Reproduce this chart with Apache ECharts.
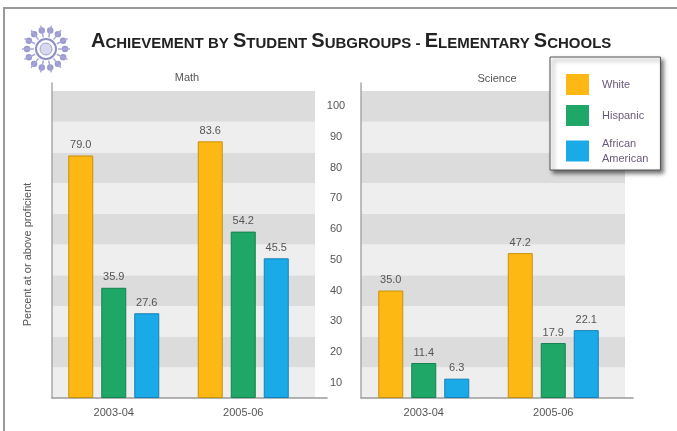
<!DOCTYPE html>
<html>
<head>
<meta charset="utf-8">
<script src="https://cdn.jsdelivr.net/npm/echarts@6/dist/echarts.min.js"></script>
<style>
  html, body { margin: 0; padding: 0; background: #ffffff; }
  #chart { width: 677px; height: 431px; }
</style>
</head>
<body>
<div id="chart"></div>
<script>
// ---- Data ----
const categories = ['2003-04', '2005-06'];
const seriesNames = ['White', 'Hispanic', 'African American'];
const mathWhite = [79.0, 83.6];
const mathHispanic = [35.9, 54.2];
const mathAfricanAmerican = [27.6, 45.5];
const scienceWhite = [35.0, 47.2];
const scienceHispanic = [11.4, 17.9];
const scienceAfricanAmerican = [6.3, 22.1];
const bandLabels = ['10', '20', '30', '40', '50', '60', '70', '80', '90', '100'];
const panelTitles = ['Math', 'Science'];

// ---- Styles ----
const colors = ['#FDB813', '#1FA767', '#1AAAE8'];
const borders = ['#c8900c', '#16804f', '#1480b5'];
const textColor = '#555555';
const font = 'Liberation Sans';

const chart = echarts.init(document.getElementById('chart'));

function barSeries(name, data, idx, axisIndex) {
  return {
    type: 'bar',
    name: name,
    xAxisIndex: axisIndex,
    yAxisIndex: axisIndex,
    data: data,
    barWidth: 25,
    barGap: '32%',
    itemStyle: { color: colors[idx], borderColor: borders[idx], borderWidth: 1 },
    label: {
      show: true,
      position: 'top',
      distance: 5,
      color: textColor,
      fontFamily: font,
      fontSize: 11,
      formatter: p => p.value.toFixed(1)
    },
    z: 3
  };
}

// logo decoration
const logoChildren = [];
const lcx = 46, lcy = 49;
for (let i = 0; i < 14; i++) {
  const a = i / 14 * Math.PI * 2;
  logoChildren.push({
    type: 'circle',
    shape: { cx: lcx + Math.cos(a) * 19, cy: lcy + Math.sin(a) * 19, r: 3.2 },
    style: { fill: '#9a9ad0' }
  });
  logoChildren.push({
    type: 'line',
    shape: { x1: lcx + Math.cos(a) * 12, y1: lcy + Math.sin(a) * 12, x2: lcx + Math.cos(a) * 24, y2: lcy + Math.sin(a) * 24 },
    style: { stroke: '#a8a8d8', lineWidth: 1.5 }
  });
}
logoChildren.push({ type: 'circle', shape: { cx: lcx, cy: lcy, r: 10 }, style: { fill: '#ffffff', stroke: '#8e8ec8', lineWidth: 2 } });
logoChildren.push({ type: 'circle', shape: { cx: lcx, cy: lcy, r: 6 }, style: { fill: '#d8d8ee', stroke: '#a0a0d0', lineWidth: 1 } });

const option = {
  backgroundColor: '#ffffff',
  animation: false,
  textStyle: { fontFamily: font },
  title: [
    {
      left: 86,
      top: 26,
      text: '{b|A}{s|CHIEVEMENT BY }{b|S}{s|TUDENT }{b|S}{s|UBGROUPS - }{b|E}{s|LEMENTARY }{b|S}{s|CHOOLS}',
      textStyle: {
        rich: {
          b: { fontFamily: font, fontWeight: 'bold', fontSize: 20, color: '#222222', verticalAlign: 'bottom', lineHeight: 20 },
          s: { fontFamily: font, fontWeight: 'bold', fontSize: 15, color: '#222222', verticalAlign: 'bottom', lineHeight: 20 }
        }
      }
    },
    { left: 182, top: 67, text: panelTitles[0], textAlign: 'center', textStyle: { fontFamily: font, fontSize: 11, fontWeight: 'normal', color: textColor } },
    { left: 492, top: 68, text: panelTitles[1], textAlign: 'center', textStyle: { fontFamily: font, fontSize: 11, fontWeight: 'normal', color: textColor } }
  ],
  legend: {
    orient: 'vertical',
    left: 550,
    top: 57,
    data: seriesNames,
    itemWidth: 23,
    itemHeight: 21,
    itemGap: 10,
    icon: 'rect',
    itemStyle: { borderWidth: 0 },
    padding: [17, 12, 4, 16],
    backgroundColor: '#ffffff',
    borderColor: '#555555',
    borderWidth: 1,
    shadowBlur: 4,
    shadowOffsetX: 3,
    shadowOffsetY: 3,
    shadowColor: 'rgba(0,0,0,0.55)',
    formatter: n => n.replace(' ', '\n'),
    textStyle: { fontFamily: font, fontSize: 11, color: '#6a5a7a', lineHeight: 15, padding: [0, 0, 0, 8] },
    selectedMode: false
  },
  grid: [
    { left: 49, width: 259, top: 91, height: 307 },
    { left: 359, width: 259, top: 91, height: 307 },
    { left: 52, width: 263, top: 91, height: 307 },
    { left: 361, width: 264, top: 91, height: 307 },
    { left: 52, width: 275, top: 83, height: 315 },
    { left: 361, width: 272, top: 83, height: 315 }
  ],
  xAxis: [
    { gridIndex: 0, type: 'category', data: categories, axisLine: { show: false }, axisTick: { show: false },
      axisLabel: { margin: 9, fontSize: 11, color: textColor, fontFamily: font } },
    { gridIndex: 1, type: 'category', data: categories, axisLine: { show: false }, axisTick: { show: false },
      axisLabel: { margin: 9, fontSize: 11, color: textColor, fontFamily: font } },
    { gridIndex: 2, type: 'value', show: false, min: 0, max: 1 },
    { gridIndex: 3, type: 'value', show: false, min: 0, max: 1 },
    { gridIndex: 4, type: 'value', min: 0, max: 1, axisLine: { show: true, onZero: false, lineStyle: { color: '#9a9a9a', width: 1.5 } },
      axisTick: { show: false }, axisLabel: { show: false }, splitLine: { show: false } },
    { gridIndex: 5, type: 'value', min: 0, max: 1, axisLine: { show: true, onZero: false, lineStyle: { color: '#9a9a9a', width: 1.5 } },
      axisTick: { show: false }, axisLabel: { show: false }, splitLine: { show: false } }
  ],
  yAxis: [
    { gridIndex: 0, type: 'value', min: 0, max: 100, axisLine: { show: false }, axisTick: { show: false },
      axisLabel: { show: false }, splitLine: { show: false },
      name: 'Percent at or above proficient', nameLocation: 'middle', nameGap: 16,
      nameTextStyle: { fontFamily: font, fontSize: 11, color: textColor, padding: [0, 20, 0, 0] } },
    { gridIndex: 1, type: 'value', min: 0, max: 100, show: false },
    { gridIndex: 2, type: 'category', data: bandLabels, axisLine: { show: false }, axisTick: { show: false },
      axisLabel: { show: false },
      splitArea: { show: true, areaStyle: { color: ['#eeeeee', '#dcdcdc'] } } },
    { gridIndex: 3, type: 'category', data: bandLabels, axisLine: { show: false }, axisTick: { show: false },
      axisLabel: { show: true, margin: 25, align: 'center', fontSize: 11, color: textColor, fontFamily: font },
      splitArea: { show: true, areaStyle: { color: ['#eeeeee', '#dcdcdc'] } } },
    { gridIndex: 4, type: 'value', min: 0, max: 1, axisLine: { show: true, onZero: false, lineStyle: { color: '#a8a8a8', width: 1.5 } },
      axisTick: { show: false }, axisLabel: { show: false }, splitLine: { show: false } },
    { gridIndex: 5, type: 'value', min: 0, max: 1, axisLine: { show: true, onZero: false, lineStyle: { color: '#a8a8a8', width: 1.5 } },
      axisTick: { show: false }, axisLabel: { show: false }, splitLine: { show: false } }
  ],
  series: [
    barSeries(seriesNames[0], mathWhite, 0, 0),
    barSeries(seriesNames[1], mathHispanic, 1, 0),
    barSeries(seriesNames[2], mathAfricanAmerican, 2, 0),
    barSeries(seriesNames[0], scienceWhite, 0, 1),
    barSeries(seriesNames[1], scienceHispanic, 1, 1),
    barSeries(seriesNames[2], scienceAfricanAmerican, 2, 1)
  ],
  graphic: [
    { type: 'polyline', shape: { points: [[4, 431], [4, 8], [677, 8]] }, style: { stroke: '#9a9a9a', lineWidth: 2, fill: null }, silent: true },
    { type: 'group', children: logoChildren, silent: true }
  ]
};

chart.setOption(option);
</script>
</body>
</html>
